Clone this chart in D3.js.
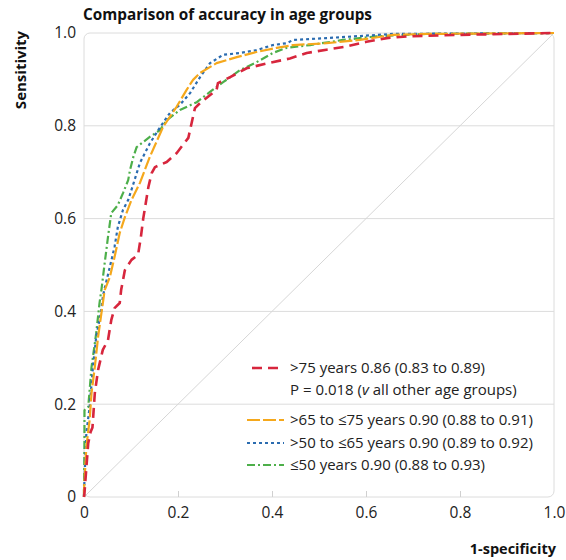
<!DOCTYPE html>
<html>
<head>
<meta charset="utf-8">
<script src="https://cdn.jsdelivr.net/npm/d3@7"></script>
<style>
  html, body { margin: 0; padding: 0; background: #fff; }
  svg { display: block; font-family: "Open Sans", "Noto Sans", sans-serif; }
</style>
</head>
<body>
<svg id="chart" width="566" height="560"></svg>
<script>
// ROC curves (1-specificity, sensitivity) by age group
const over75 = [
  [0,0],[0.001,0.009],[0.009,0.116],[0.014,0.14],[0.018,0.15],[0.023,0.224],[0.030,0.274],[0.040,0.317],
  [0.051,0.338],[0.058,0.381],[0.065,0.407],[0.076,0.418],[0.079,0.446],[0.087,0.489],
  [0.101,0.511],[0.115,0.522],[0.121,0.560],[0.126,0.600],[0.137,0.668],[0.144,0.698],
  [0.151,0.711],[0.176,0.722],[0.197,0.741],[0.222,0.774],[0.229,0.806],[0.236,0.838],
  [0.247,0.849],[0.282,0.877],[0.285,0.892],[0.311,0.905],[0.346,0.924],[0.396,0.936],
  [0.438,0.945],[0.474,0.957],[0.516,0.964],[0.559,0.971],[0.601,0.981],[0.644,0.989],
  [0.694,0.993],[0.8,0.996],[1,1]
];
const age65to75 = [
  [0,0],[0,0.015],[0.005,0.108],[0.012,0.166],[0.016,0.224],[0.023,0.280],[0.030,0.345],
  [0.037,0.396],[0.044,0.446],[0.055,0.474],[0.065,0.517],[0.076,0.569],[0.087,0.603],
  [0.101,0.640],[0.119,0.677],[0.140,0.733],[0.168,0.797],[0.197,0.841],[0.218,0.877],
  [0.232,0.899],[0.247,0.914],[0.282,0.935],[0.325,0.948],[0.367,0.959],[0.410,0.968],
  [0.445,0.974],[0.516,0.978],[0.587,0.985],[0.658,0.996],[0.73,0.998],[1,1]
];
const age50to65 = [
  [0,0],[0,0.01],[0.005,0.138],[0.012,0.194],[0.019,0.280],[0.026,0.345],[0.037,0.403],
  [0.040,0.431],[0.044,0.450],[0.055,0.496],[0.065,0.539],[0.072,0.582],[0.083,0.619],
  [0.094,0.640],[0.101,0.662],[0.119,0.720],[0.140,0.762],[0.162,0.797],[0.183,0.828],
  [0.204,0.845],[0.226,0.871],[0.247,0.905],[0.268,0.935],[0.296,0.953],[0.332,0.957],
  [0.367,0.963],[0.402,0.974],[0.431,0.978],[0.445,0.985],[0.516,0.989],[0.658,0.998],[1,1]
];
const upTo50 = [
  [0,0],[0,0.01],[0.001,0.123],[0.001,0.187],[0.009,0.194],[0.016,0.280],[0.026,0.353],
  [0.033,0.418],[0.037,0.446],[0.044,0.504],[0.051,0.560],[0.058,0.612],[0.072,0.629],
  [0.083,0.655],[0.094,0.683],[0.098,0.705],[0.105,0.733],[0.112,0.754],[0.140,0.776],
  [0.162,0.791],[0.176,0.812],[0.204,0.834],[0.240,0.851],[0.268,0.873],[0.296,0.894],
  [0.332,0.920],[0.367,0.937],[0.402,0.957],[0.431,0.968],[0.481,0.974],[0.551,0.985],
  [0.623,0.993],[0.73,0.998],[1,1]
];

const xTicks = [0, 0.2, 0.4, 0.6, 0.8, 1.0];
const yTicks = [0, 0.2, 0.4, 0.6, 0.8, 1.0];
const tickLabels = ["0", "0.2", "0.4", "0.6", "0.8", "1.0"];

const seriesNames = [
  ">75 years 0.86 (0.83 to 0.89)",
  ">65 to ≤75 years 0.90 (0.88 to 0.91)",
  ">50 to ≤65 years 0.90 (0.89 to 0.92)",
  "≤50 years 0.90 (0.88 to 0.93)"
];

// drawn back to front
const series = [
  { name: seriesNames[3], data: upTo50,    color: "#4daf4a", width: 2.2, dash: "8,3,2,3" },
  { name: seriesNames[2], data: age50to65, color: "#2b6cb0", width: 2.2, dash: "3,3" },
  { name: seriesNames[1], data: age65to75, color: "#f5a81c", width: 2.2, dash: "13,3" },
  { name: seriesNames[0], data: over75,    color: "#d7263d", width: 2.6, dash: "10,6" }
];

const svg = d3.select("#chart");
const plotLeft = 84, plotRight = 554, plotTop = 33, plotBottom = 497;
const fontStack = "'Open Sans', 'Noto Sans', sans-serif";

const x = d3.scaleLinear().domain([0, 1]).range([plotLeft, plotRight]);
const y = d3.scaleLinear().domain([0, 1]).range([plotBottom, plotTop]);

// plot frame
svg.append("rect")
  .attr("x", plotLeft).attr("y", plotTop)
  .attr("width", plotRight - plotLeft).attr("height", plotBottom - plotTop)
  .attr("rx", 6).attr("ry", 6)
  .attr("fill", "none").attr("stroke", "#dcdcdc").attr("stroke-width", 1);

// horizontal gridlines
svg.append("g").selectAll("line")
  .data(yTicks.filter(d => d > 0 && d < 1))
  .join("line")
  .attr("x1", plotLeft).attr("x2", plotRight)
  .attr("y1", d => y(d)).attr("y2", d => y(d))
  .attr("stroke", "#dcdcdc").attr("stroke-width", 1);

// chance diagonal
svg.append("line")
  .attr("x1", x(0)).attr("y1", y(0)).attr("x2", x(1)).attr("y2", y(1))
  .attr("stroke", "#d6d6d6").attr("stroke-width", 1);

// x axis: inward ticks and labels
const xAxis = d3.axisBottom(x).tickValues(xTicks).tickSize(-6).tickPadding(10)
  .tickFormat((d, i) => tickLabels[i]);
const gx = svg.append("g").attr("transform", `translate(0,${plotBottom})`).call(xAxis);
gx.select(".domain").remove();
gx.selectAll(".tick line").attr("stroke", "#d0d0d0")
  .attr("opacity", d => (d > 0 && d < 1) ? 1 : 0);
gx.selectAll(".tick text").attr("font-size", 15.5).attr("fill", "#222")
  .attr("font-family", fontStack).attr("dy", "0.7em");

// y axis labels
const yAxis = d3.axisLeft(y).tickValues(yTicks).tickSize(0).tickPadding(8)
  .tickFormat((d, i) => tickLabels[i]);
const gy = svg.append("g").attr("transform", `translate(${plotLeft},0)`).call(yAxis);
gy.select(".domain").remove();
gy.selectAll(".tick text").attr("font-size", 15.5).attr("fill", "#222")
  .attr("font-family", fontStack);

// ROC curves
const line = d3.line().x(d => x(d[0])).y(d => y(d[1]));
svg.append("g").selectAll("path")
  .data(series)
  .join("path")
  .attr("d", d => line(d.data))
  .attr("fill", "none")
  .attr("stroke", d => d.color)
  .attr("stroke-width", d => d.width)
  .attr("stroke-dasharray", d => d.dash)
  .attr("stroke-linejoin", "round");

// titles
svg.append("text").attr("x", 83).attr("y", 20)
  .attr("font-size", 15.3).attr("font-weight", 700).attr("fill", "#111")
  .text("Comparison of accuracy in age groups");
svg.append("text")
  .attr("transform", "translate(26,70) rotate(-90)")
  .attr("text-anchor", "middle")
  .attr("font-size", 15).attr("font-weight", 700).attr("fill", "#111")
  .text("Sensitivity");
svg.append("text").attr("x", 556).attr("y", 554)
  .attr("text-anchor", "end")
  .attr("font-size", 14.5).attr("font-weight", 700).attr("fill", "#111")
  .text("1-specificity");

// legend
const legendRows = [
  { s: series[3], y: 368, x1: 252 },
  { s: series[2], y: 420, x1: 247 },
  { s: series[1], y: 443, x1: 247 },
  { s: series[0], y: 465, x1: 247 }
];
const lg = svg.append("g").attr("font-size", 15).attr("fill", "#222");
legendRows.forEach(r => {
  lg.append("line")
    .attr("x1", r.x1).attr("x2", 284).attr("y1", r.y).attr("y2", r.y)
    .attr("stroke", r.s.color).attr("stroke-width", r.s.width)
    .attr("stroke-dasharray", r.s.dash);
  lg.append("text").attr("x", 290).attr("y", r.y).attr("dy", "0.35em").text(r.s.name);
});
const pText = lg.append("text").attr("x", 290).attr("y", 390).attr("dy", "0.35em");
pText.append("tspan").text("P = 0.018 (");
pText.append("tspan").attr("font-style", "italic").text("v");
pText.append("tspan").text(" all other age groups)");
</script>
</body>
</html>
